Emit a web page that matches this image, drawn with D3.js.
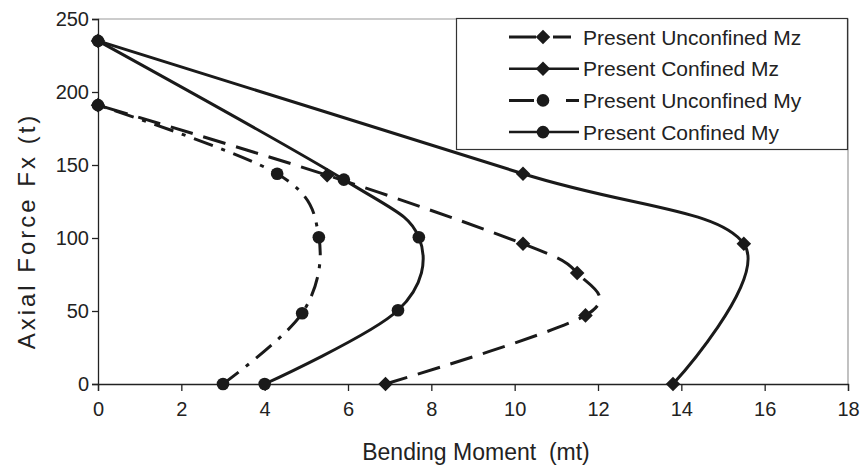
<!DOCTYPE html>
<html>
<head>
<meta charset="utf-8">
<script src="https://cdn.jsdelivr.net/npm/d3@7"></script>
<style>
  body { margin: 0; background: #fff; }
  text { font-family: "Liberation Sans", Arial, sans-serif; fill: #222; white-space: pre; }
</style>
</head>
<body>
<script>
const width = 862
const height = 471

// series: bending moment (mt) against axial force (t)
const seriesNames = ["Present Unconfined Mz", "Present Confined Mz", "Present Unconfined My", "Present Confined My"];

const unconfinedMzMoment = [6.9, 11.7, 11.5, 10.2, 5.5, 0];
const unconfinedMzForce  = [0, 47, 76, 96, 143, 191];

const confinedMzMoment = [13.8, 15.5, 10.2, 0];
const confinedMzForce  = [0, 96, 144, 235];

const unconfinedMyMoment = [3.0, 4.9, 5.3, 4.3, 0];
const unconfinedMyForce  = [0, 48.5, 100.5, 144, 191];

const confinedMyMoment = [4.0, 7.2, 7.7, 5.9, 0];
const confinedMyForce  = [0, 50.5, 100.5, 140, 235];

const xTicks = [0, 2, 4, 6, 8, 10, 12, 14, 16, 18];
const yTicks = [0, 50, 100, 150, 200, 250];

const margin = {top: 19, right: 14, bottom: 87, left: 98};

const svg = d3.select("body").append("svg")
    .attr("width", width)
    .attr("height", height);

const x = d3.scaleLinear().domain([0, 18]).range([margin.left, width - margin.right]);
const y = d3.scaleLinear().domain([0, 250]).range([height - margin.bottom, margin.top]);

// plot frame (grey top / right edges)
svg.append("path")
    .attr("d", `M${x(0)},${y(250)}H${x(18)}V${y(0)}`)
    .attr("fill", "none")
    .attr("stroke", "#999")
    .attr("stroke-width", 1.2);

// axes
const xAxis = svg.append("g")
    .attr("transform", `translate(0,${y(0)})`)
    .call(d3.axisBottom(x).tickValues(xTicks).tickSize(7).tickPadding(11).tickFormat(d3.format("d")));
const yAxis = svg.append("g")
    .attr("transform", `translate(${x(0)},0)`)
    .call(d3.axisLeft(y).tickValues(yTicks).tickSize(6).tickPadding(3).tickFormat(d3.format("d")));

[xAxis, yAxis].forEach(g => {
    g.select(".domain").attr("stroke", "#222").attr("stroke-width", 1.3);
    g.selectAll(".tick line").attr("stroke", "#222").attr("stroke-width", 1.3);
    g.selectAll(".tick text").attr("font-size", 20).attr("font-family", "Liberation Sans, Arial, sans-serif").attr("fill", "#222");
});

// axis titles
svg.append("text")
    .attr("x", 476)
    .attr("y", 460)
    .attr("text-anchor", "middle")
    .attr("font-size", 23)
    .text("Bending Moment  (mt)");

svg.append("text")
    .attr("transform", "translate(35,231) rotate(-90)")
    .attr("text-anchor", "middle")
    .attr("font-size", 24)
    .attr("letter-spacing", 3)
    .text("Axial Force Fx (t)");

const series = [
    {moment: unconfinedMzMoment, force: unconfinedMzForce, dash: "23,11", marker: "diamond", legendDash: "27,17,18,100"},
    {moment: confinedMzMoment, force: confinedMzForce, dash: null, marker: "diamond", legendDash: null},
    {moment: unconfinedMyMoment, force: unconfinedMyForce, dash: "20,9,4,9", marker: "circle", legendDash: "25,32,13,100"},
    {moment: confinedMyMoment, force: confinedMyForce, dash: null, marker: "circle", legendDash: null}
];

const line = d3.line()
    .x(d => x(d[0]))
    .y(d => y(d[1]))
    .curve(d3.curveCardinal.tension(0));

const diamond = d3.symbol().type(d3.symbolDiamond2).size(135);
const circle = d3.symbol().type(d3.symbolCircle).size(125);

series.forEach(s => {
    const pts = s.moment.map((m, i) => [m, s.force[i]]);
    svg.append("path")
        .attr("d", line(pts))
        .attr("fill", "none")
        .attr("stroke", "#1a1a1a")
        .attr("stroke-width", 3)
        .attr("stroke-dasharray", s.dash);
    svg.append("g").selectAll("path")
        .data(pts)
        .join("path")
        .attr("transform", d => `translate(${x(d[0])},${y(d[1])})`)
        .attr("d", s.marker === "diamond" ? diamond() : circle())
        .attr("fill", "#1a1a1a");
});

// legend
const legend = svg.append("g");
legend.append("rect")
    .attr("x", 456.5)
    .attr("y", 18.5)
    .attr("width", 391)
    .attr("height", 131)
    .attr("fill", "#fff")
    .attr("stroke", "#333")
    .attr("stroke-width", 1.2);

const legendRows = legend.selectAll("g.row")
    .data(series)
    .join("g")
    .attr("class", "row")
    .attr("transform", (d, i) => `translate(0,${37 + i * 31.7})`);

legendRows.append("path")
    .attr("d", "M509,0H579")
    .attr("stroke", "#1a1a1a")
    .attr("stroke-width", d => d.dash ? 3 : 2.5)
    .attr("stroke-dasharray", d => d.legendDash);

legendRows.append("path")
    .attr("transform", "translate(543,0)")
    .attr("d", d => d.marker === "diamond" ? diamond() : circle())
    .attr("fill", "#1a1a1a");

legendRows.append("text")
    .attr("x", 583)
    .attr("y", 7.5)
    .attr("font-size", 21)
    .text((d, i) => seriesNames[i]);
</script>
</body>
</html>
